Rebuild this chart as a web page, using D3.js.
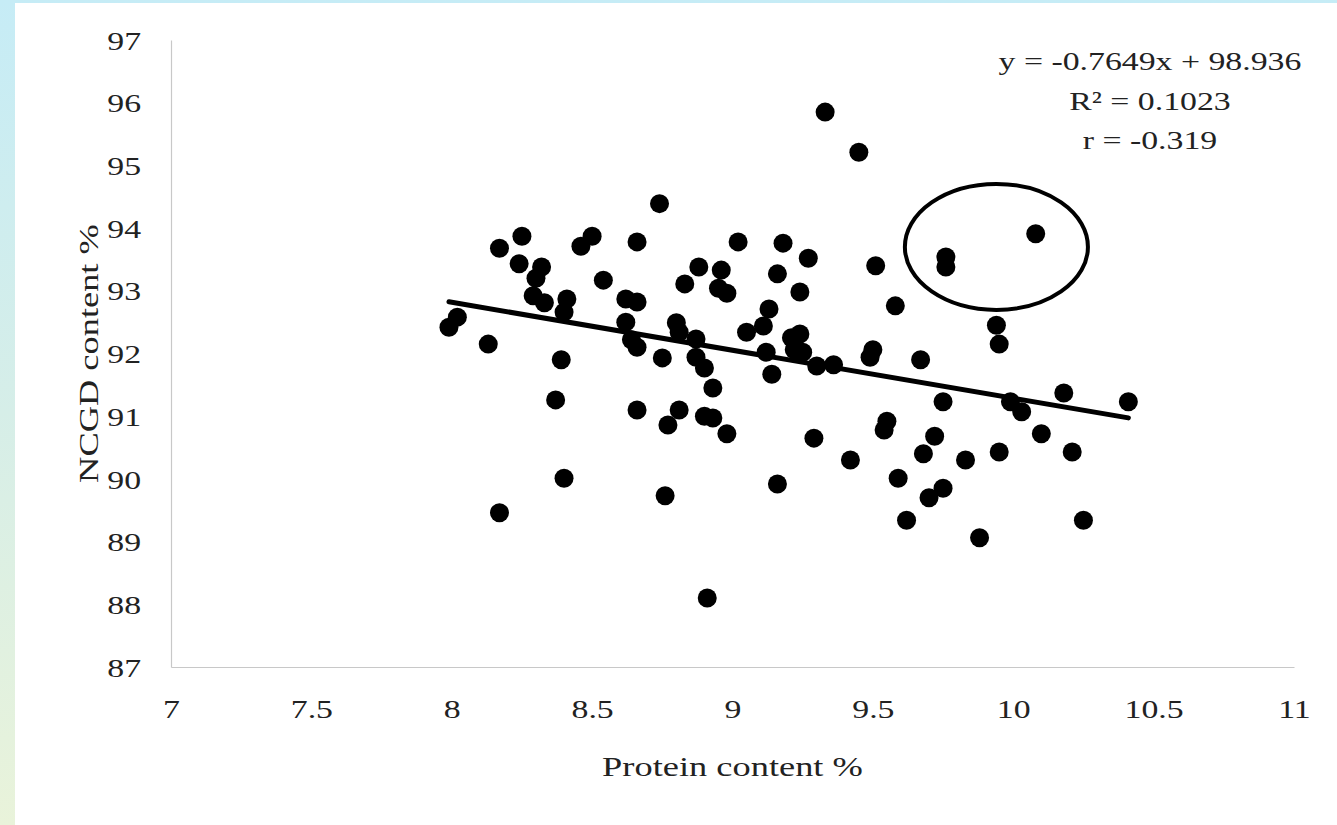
<!DOCTYPE html>
<html>
<head>
<meta charset="utf-8">
<script src="https://cdn.jsdelivr.net/npm/d3@7"></script>
<style>
  html, body { margin: 0; padding: 0; }
  body {
    width: 1337px; height: 825px; overflow: hidden;
    background: linear-gradient(to bottom, #c6ecf6 0%, #d6eee8 50%, #e9f3da 100%);
  }
  #wrapper { position: absolute; left: 15px; top: 3px; width: 1322px; height: 822px; background: #fff; }
  svg { position: absolute; left: -15px; top: -3px; }
</style>
</head>
<body>
<div id="wrapper"></div>
<script>
// protein content % (x) and NCGD content % (y)
const protein = [
  7.99, 8.02, 8.13, 8.17, 8.17, 8.24, 8.25, 8.32, 8.30, 8.29,
  8.33, 8.41, 8.40, 8.46, 8.50, 8.54, 8.66, 8.74, 8.62, 8.66,
  8.62, 8.64, 8.66, 8.75, 8.80, 8.81, 8.88, 8.83, 8.96, 8.95,
  8.98, 8.87, 8.87, 8.90, 8.93, 8.39, 8.37, 8.66, 8.77, 8.81,
  8.90, 8.93, 8.98, 8.40, 8.76, 8.91, 9.02, 9.18, 9.27, 9.16,
  9.24, 9.13, 9.11, 9.05, 9.12, 9.14, 9.21, 9.24, 9.22, 9.25,
  9.30, 9.36, 9.33, 9.45, 9.51, 9.50, 9.49, 9.58, 9.67, 9.76,
  9.76, 10.08, 9.94, 9.95, 9.75, 9.99, 10.03, 10.18, 10.41, 9.55,
  9.54, 9.72, 9.68, 9.83, 9.95, 10.10, 10.21, 9.59, 9.75, 9.70,
  9.62, 9.88, 10.25, 9.29, 9.42, 9.16
];
const ncgd = [
  92.42, 92.58, 92.15, 93.68, 89.46, 93.43, 93.87, 93.38, 93.20, 92.92,
  92.81, 92.87, 92.66, 93.71, 93.87, 93.17, 93.78, 94.39, 92.87, 92.82,
  92.50, 92.22, 92.10, 91.93, 92.49, 92.34, 93.38, 93.11, 93.33, 93.04,
  92.96, 92.23, 91.94, 91.77, 91.45, 91.90, 91.26, 91.10, 90.86, 91.10,
  91.00, 90.97, 90.72, 90.01, 89.73, 88.10, 93.78, 93.76, 93.52, 93.27,
  92.98, 92.71, 92.44, 92.34, 92.02, 91.67, 92.25, 92.31, 92.06, 92.02,
  91.80, 91.82, 95.85, 95.21, 93.40, 92.06, 91.94, 92.76, 91.90, 93.54,
  93.38, 93.91, 92.45, 92.15, 91.23, 91.23, 91.07, 91.37, 91.23, 90.92,
  90.78, 90.68, 90.40, 90.30, 90.43, 90.72, 90.43, 90.01, 89.85, 89.70,
  89.34, 89.06, 89.34, 90.65, 90.30, 89.92
];

const xTicks = [7, 7.5, 8, 8.5, 9, 9.5, 10, 10.5, 11];
const yTicks = [87, 88, 89, 90, 91, 92, 93, 94, 95, 96, 97];

// linear fit shown on the chart
const slope = -0.7649;
const intercept = 98.936;
const fitText = ["y = -0.7649x + 98.936", "R\u00b2 = 0.1023", "r = -0.319"];

// hand-drawn ellipse around the outlier group: centre x, centre y, half-widths
const ringCentre = [9.94, 93.70];
const ringRadius = [0.326, 1.005];

const xLabel = "Protein content %";
const yLabel = "NCGD content %";

const serif = "'Liberation Serif', 'Times New Roman', serif";
const stretch = 1.3;

const dimensions = {
  width: 1337,
  height: 825,
  margin: { top: 40, right: 43, bottom: 158, left: 171 },
};
dimensions.boundedWidth = dimensions.width - dimensions.margin.left - dimensions.margin.right;
dimensions.boundedHeight = dimensions.height - dimensions.margin.top - dimensions.margin.bottom;

const svg = d3.select("#wrapper")
  .append("svg")
  .attr("width", dimensions.width)
  .attr("height", dimensions.height);

const bounds = svg.append("g")
  .attr("transform", `translate(${dimensions.margin.left},${dimensions.margin.top})`);

const xScale = d3.scaleLinear()
  .domain([7, 11])
  .range([0, dimensions.boundedWidth]);

const yScale = d3.scaleLinear()
  .domain([87, 97])
  .range([dimensions.boundedHeight, 0]);

// axes: plain grey lines, no tick marks
const xAxis = bounds.append("g")
  .attr("transform", `translate(0,${dimensions.boundedHeight})`)
  .call(d3.axisBottom(xScale).tickValues(xTicks).tickSize(0).tickPadding(33).tickFormat(d3.format("")));
const yAxis = bounds.append("g")
  .call(d3.axisLeft(yScale).tickValues(yTicks).tickSize(0).tickPadding(23).tickFormat(d3.format("")));

[xAxis, yAxis].forEach(ax => {
  ax.select(".domain").attr("stroke", "#c8c8c8").attr("stroke-width", 1.2);
  ax.selectAll("text")
    .attr("font-family", serif)
    .attr("font-size", 26)
    .attr("fill", "#222");
});
xAxis.selectAll("text").attr("transform", `scale(${stretch},1)`);
yAxis.selectAll("text")
  .attr("dy", "0.35em")
  .attr("transform", `scale(${stretch},1)`);

// points
bounds.append("g")
  .selectAll("circle")
  .data(protein.map((p, i) => [p, ncgd[i]]))
  .join("circle")
  .attr("cx", d => xScale(d[0]))
  .attr("cy", d => yScale(d[1]))
  .attr("r", 9.5)
  .attr("fill", "#000");

// trend line across the data range
const xExtent = d3.extent(protein);
bounds.append("line")
  .attr("x1", xScale(xExtent[0]))
  .attr("x2", xScale(xExtent[1]))
  .attr("y1", yScale(slope * xExtent[0] + intercept))
  .attr("y2", yScale(slope * xExtent[1] + intercept))
  .attr("stroke", "#000")
  .attr("stroke-width", 5)
  .attr("stroke-linecap", "round");

// ellipse
bounds.append("ellipse")
  .attr("cx", xScale(ringCentre[0]))
  .attr("cy", yScale(ringCentre[1]))
  .attr("rx", xScale(ringCentre[0] + ringRadius[0]) - xScale(ringCentre[0]))
  .attr("ry", yScale(ringCentre[1] - ringRadius[1]) - yScale(ringCentre[1]))
  .attr("fill", "none")
  .attr("stroke", "#000")
  .attr("stroke-width", 4);

// equation block
const eq = svg.append("g").attr("transform", "translate(1150,0)");
eq.selectAll("text")
  .data(fitText)
  .join("text")
  .attr("transform", (d, i) => `translate(0,${70 + i * 39.5}) scale(${stretch},1)`)
  .attr("text-anchor", "middle")
  .attr("font-family", serif)
  .attr("font-size", 26)
  .attr("fill", "#222")
  .text(d => d);

// axis titles
svg.append("text")
  .attr("transform", `translate(${dimensions.margin.left + dimensions.boundedWidth / 2},776) scale(${stretch},1)`)
  .attr("text-anchor", "middle")
  .attr("font-family", serif)
  .attr("font-size", 28)
  .attr("fill", "#222")
  .text(xLabel);

svg.append("text")
  .attr("transform", `translate(98,${dimensions.margin.top + dimensions.boundedHeight / 2}) rotate(-90) scale(${stretch},1)`)
  .attr("text-anchor", "middle")
  .attr("font-family", serif)
  .attr("font-size", 28)
  .attr("fill", "#222")
  .text(yLabel);
</script>
</body>
</html>
